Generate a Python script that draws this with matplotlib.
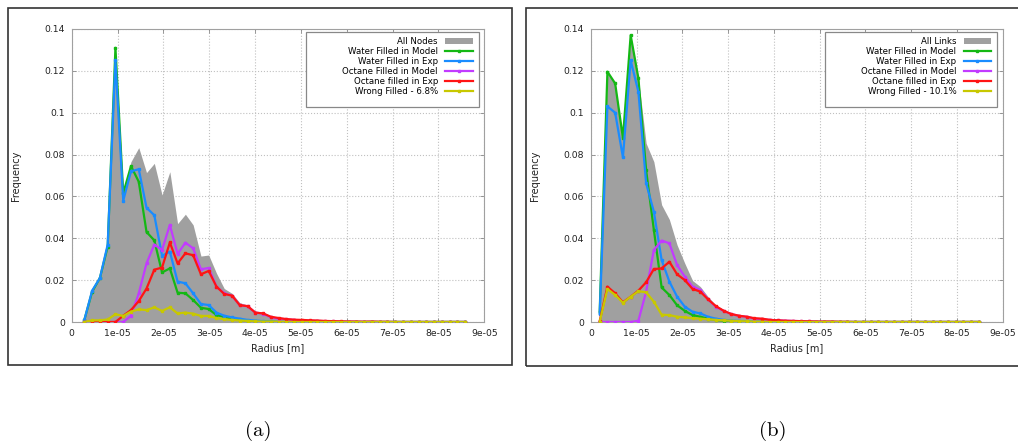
import numpy as np
import matplotlib.pyplot as plt
from matplotlib.patches import Rectangle

# radius bins (units of 1e-5 m)
radius_nodes = [0.276, 0.446, 0.615, 0.785, 0.954, 1.124, 1.293, 1.463, 1.632, 1.802,
                1.971, 2.141, 2.310, 2.480, 2.649, 2.819, 2.988, 3.158, 3.327, 3.497,
                3.666, 3.836, 4.005, 4.175, 4.344, 4.514, 4.683, 4.853, 5.022, 5.192,
                5.361, 5.531, 5.700, 5.870, 6.039, 6.209, 6.378, 6.548, 6.717, 6.887,
                7.056, 7.226, 7.395, 7.565, 7.734, 7.904, 8.073, 8.243, 8.412, 8.582]
radius_links = [0.190, 0.359, 0.528, 0.698, 0.867, 1.036, 1.205, 1.374, 1.544, 1.713,
                1.882, 2.051, 2.220, 2.390, 2.559, 2.728, 2.897, 3.066, 3.236, 3.405,
                3.574, 3.743, 3.912, 4.082, 4.251, 4.420, 4.589, 4.758, 4.928, 5.097,
                5.266, 5.435, 5.604, 5.774, 5.943, 6.112, 6.281, 6.450, 6.620, 6.789,
                6.958, 7.127, 7.296, 7.466, 7.635, 7.804, 7.973, 8.142, 8.312, 8.481]

# (a) nodes
all_nodes = [0.001, 0.015, 0.021, 0.037, 0.130, 0.063, 0.0766, 0.0833, 0.0714, 0.0758,
             0.0607, 0.0718, 0.047, 0.0515, 0.0464, 0.0315, 0.032, 0.0233, 0.016, 0.0137,
             0.0092, 0.0081, 0.0049, 0.0045, 0.0029, 0.002, 0.0016, 0.0012, 0.001, 0.0008,
             0.0007, 0.0005, 0.0004, 0.0003, 0.0002, 0.0002, 0.0001, 0.0001, 0.0001, 0.0001,
             0, 0, 0, 0, 0, 0, 0, 0, 0, 0]
water_model_n = [0.001, 0.0145, 0.021, 0.036, 0.131, 0.0615, 0.0745, 0.067, 0.043, 0.039,
                 0.0237, 0.0256, 0.014, 0.0137, 0.0105, 0.0068, 0.0062, 0.0033, 0.0025, 0.0016,
                 0.001, 0.0006, 0.0003, 0.0002, 0.0001, 0, 0, 0, 0, 0,
                 0, 0, 0, 0, 0, 0, 0, 0, 0, 0, 0, 0, 0, 0, 0, 0, 0, 0, 0, 0]
water_exp_n = [0.001, 0.015, 0.021, 0.037, 0.125, 0.058, 0.072, 0.073, 0.0546, 0.051,
               0.0317, 0.0336, 0.0193, 0.0185, 0.0137, 0.0086, 0.0081, 0.0045, 0.003, 0.0022,
               0.0016, 0.001, 0.0007, 0.0004, 0.0002, 0, 0, 0, 0, 0,
               0, 0, 0, 0, 0, 0, 0, 0, 0, 0, 0, 0, 0, 0, 0, 0, 0, 0, 0, 0]
octane_model_n = [0, 0, 0, 0, 0, 0, 0.003, 0.0137, 0.028, 0.037,
                  0.0344, 0.0464, 0.0325, 0.0379, 0.0352, 0.0252, 0.0258, 0.0169, 0.0137, 0.0126,
                  0.008, 0.0075, 0.0045, 0.004, 0.0022, 0.0016, 0.0013, 0.001, 0.0007, 0.0006,
                  0.0005, 0.0004, 0.0003, 0.0002, 0.0002, 0.0001, 0.0001, 0.0001, 0, 0,
                  0, 0, 0, 0, 0, 0, 0, 0, 0, 0]
octane_exp_n = [0, 0, 0, 0, 0, 0.003, 0.0057, 0.01, 0.016, 0.025,
                0.026, 0.038, 0.028, 0.0328, 0.0319, 0.0228, 0.0244, 0.0169, 0.0134, 0.0126,
                0.008, 0.0076, 0.0045, 0.0041, 0.0025, 0.0019, 0.0014, 0.0011, 0.001, 0.0008,
                0.0007, 0.0005, 0.0004, 0.0003, 0.0002, 0.0002, 0.0001, 0.0002, 0.0001, 0.0001,
                0, 0, 0, 0, 0, 0, 0, 0, 0, 0]
wrong_n = [0, 0.0008, 0.0008, 0.0012, 0.0037, 0.0029, 0.005, 0.006, 0.0057, 0.007,
           0.0053, 0.007, 0.0041, 0.0045, 0.004, 0.0029, 0.0029, 0.0019, 0.0013, 0.001,
           0.0007, 0.0005, 0.0003, 0.0002, 0.0002, 0.0001, 0, 0, 0, 0,
           0, 0, 0, 0, 0, 0, 0, 0, 0, 0, 0, 0, 0, 0, 0, 0, 0, 0, 0, 0]

# (b) links
all_links = [0.005, 0.1196, 0.114, 0.088, 0.137, 0.1165, 0.0854, 0.0766, 0.056, 0.049,
             0.0368, 0.028, 0.0198, 0.0169, 0.0121, 0.0081, 0.006, 0.0041, 0.0029, 0.0022,
             0.0016, 0.0013, 0.001, 0.0008, 0.0006, 0.0005, 0.0004, 0.0003, 0.0002, 0.0002,
             0.0001, 0.0001, 0.0001, 0, 0, 0, 0, 0, 0, 0,
             0, 0, 0, 0, 0, 0, 0, 0, 0, 0]
water_model_l = [0.005, 0.1196, 0.114, 0.088, 0.137, 0.1165, 0.0726, 0.044, 0.0165, 0.0129,
                 0.008, 0.0053, 0.0033, 0.0025, 0.0016, 0.001, 0.0006, 0.0004, 0.0002, 0.0001,
                 0, 0, 0, 0, 0, 0, 0, 0, 0, 0,
                 0, 0, 0, 0, 0, 0, 0, 0, 0, 0, 0, 0, 0, 0, 0, 0, 0, 0, 0, 0]
water_exp_l = [0.004, 0.103, 0.100, 0.0787, 0.125, 0.110, 0.0663, 0.0527, 0.0296, 0.0193,
               0.0121, 0.0073, 0.0049, 0.0041, 0.0025, 0.0016, 0.001, 0.0007, 0.0005, 0.0003,
               0.0002, 0.0001, 0, 0, 0, 0, 0, 0, 0, 0,
               0, 0, 0, 0, 0, 0, 0, 0, 0, 0, 0, 0, 0, 0, 0, 0, 0, 0, 0, 0]
octane_model_l = [0, 0, 0, 0, 0, 0.0006, 0.0145, 0.0344, 0.0389, 0.0376,
                  0.0272, 0.0217, 0.0169, 0.0153, 0.0108, 0.0073, 0.0053, 0.0038, 0.0029, 0.0025,
                  0.0016, 0.0013, 0.001, 0.0008, 0.0006, 0.0005, 0.0004, 0.0003, 0.0002, 0.0001,
                  0.0001, 0, 0, 0, 0, 0, 0, 0, 0, 0,
                  0, 0, 0, 0, 0, 0, 0, 0, 0, 0]
octane_exp_l = [0.0005, 0.0169, 0.0137, 0.0094, 0.0121, 0.015, 0.019, 0.0253, 0.0256, 0.0288,
                0.0228, 0.020, 0.0158, 0.0145, 0.0108, 0.0076, 0.0054, 0.0038, 0.003, 0.0025,
                0.0018, 0.0016, 0.001, 0.0008, 0.0006, 0.0005, 0.0004, 0.0003, 0.0002, 0.0002,
                0.0002, 0.0001, 0.0001, 0, 0, 0, 0, 0, 0, 0,
                0, 0, 0, 0, 0, 0, 0, 0, 0, 0]
wrong_l = [0, 0.0158, 0.0129, 0.0092, 0.0121, 0.0147, 0.0142, 0.0097, 0.0035, 0.0033,
           0.0025, 0.0022, 0.0018, 0.0016, 0.0013, 0.001, 0.0008, 0.0006, 0.0004, 0.0003,
           0.0002, 0.0001, 0, 0, 0, 0, 0, 0, 0, 0,
           0, 0, 0, 0, 0, 0, 0, 0, 0, 0, 0, 0, 0, 0, 0, 0, 0, 0, 0, 0]

labels = ['Water Filled in Model', 'Water Filled in Exp', 'Octane Filled in Model',
          'Octane filled in Exp']
colors = ['#14b814', '#1a8cff', '#c23bff', '#ff1414']
wrong_color = '#c8c800'
gray = '#a0a0a0'

xticks = [0, 1, 2, 3, 4, 5, 6, 7, 8, 9]
xticklabels = ['0', '1e-05', '2e-05', '3e-05', '4e-05', '5e-05', '6e-05', '7e-05', '8e-05', '9e-05']
yticks = [0, 0.02, 0.04, 0.06, 0.08, 0.1, 0.12, 0.14]
yticklabels = ['0', '0.02', '0.04', '0.06', '0.08', '0.1', '0.12', '0.14']

W, H = 1018, 441
fig = plt.figure(figsize=(W / 100, H / 100), dpi=100)


def panel(left_px, width_px, x, total, total_label, series, wrong, wrong_label):
    ax = fig.add_axes([left_px / W, 1 - 322 / H, width_px / W, 293 / H])
    x = np.array(x) * 1e-5
    ax.fill_between(x, 0, total, color=gray, lw=0, label=total_label, zorder=2)
    for y, c, lab in zip(series, colors, labels):
        ax.plot(x, y, color=c, lw=1.6, marker='s', ms=2, label=lab, zorder=3)
    ax.plot(x, wrong, color=wrong_color, lw=1.6, marker='s', ms=2, label=wrong_label, zorder=3)

    ax.set_xlim(0, 9e-5)
    ax.set_ylim(0, 0.14)
    ax.set_xticks(np.array(xticks) * 1e-5)
    ax.set_xticklabels(xticklabels)
    ax.set_yticks(yticks)
    ax.set_yticklabels(yticklabels)
    ax.tick_params(direction='in', length=3, width=0.6, color='#888888', labelsize=6.7,
                   top=True, right=True, pad=5, labelcolor='#222222')
    for s in ax.spines.values():
        s.set_color('#a0a0a0')
        s.set_linewidth(0.8)
    ax.grid(True, color='#c0c0c0', ls=':', lw=0.8, zorder=0)
    ax.set_axisbelow(True)
    ax.set_xlabel('Radius [m]', fontsize=7, color='#222222')
    ax.set_ylabel('Frequency', fontsize=7, color='#222222')
    ax.xaxis.set_label_coords(0.5, -0.073)
    ax.yaxis.set_label_coords(-0.124, 0.5)

    # legend box
    ax.add_patch(Rectangle((0.569, 0.733), 0.417, 0.256, transform=ax.transAxes,
                           facecolor='white', edgecolor='#888888', lw=0.9, zorder=4))
    leg = ax.legend(loc='upper right', bbox_to_anchor=(0.972, 0.971), frameon=False,
                    markerfirst=False, fontsize=6.2, labelspacing=0.1, handlelength=3.2,
                    handletextpad=0.84, borderpad=0, borderaxespad=0)
    leg.set_zorder(5)
    return ax


panel(71.7, 412.6, radius_nodes, all_nodes, 'All Nodes',
      [water_model_n, water_exp_n, octane_model_n, octane_exp_n], wrong_n, 'Wrong Filled - 6.8%')
panel(591, 411.7, radius_links, all_links, 'All Links',
      [water_model_l, water_exp_l, octane_model_l, octane_exp_l], wrong_l, 'Wrong Filled - 10.1%')

# outer frames around each sub-figure
fig.patches.append(Rectangle((7.5 / W, 1 - 365.3 / H), (511.7 - 7.5) / W, (365.3 - 8.3) / H,
                             transform=fig.transFigure, fill=False, edgecolor='#333333', lw=1.2))
fig.patches.append(Rectangle((526 / W, 1 - 365.7 / H), (1030 - 526) / W, (365.7 - 8.3) / H,
                             transform=fig.transFigure, fill=False, edgecolor='#333333', lw=1.2))

fig.text(258 / W, 1 - 431 / H, '(a)', fontname='cmr10', fontsize=15, ha='center', va='center')
fig.text(773 / W, 1 - 431 / H, '(b)', fontname='cmr10', fontsize=15, ha='center', va='center')

fig.savefig('out.png', dpi=100)
